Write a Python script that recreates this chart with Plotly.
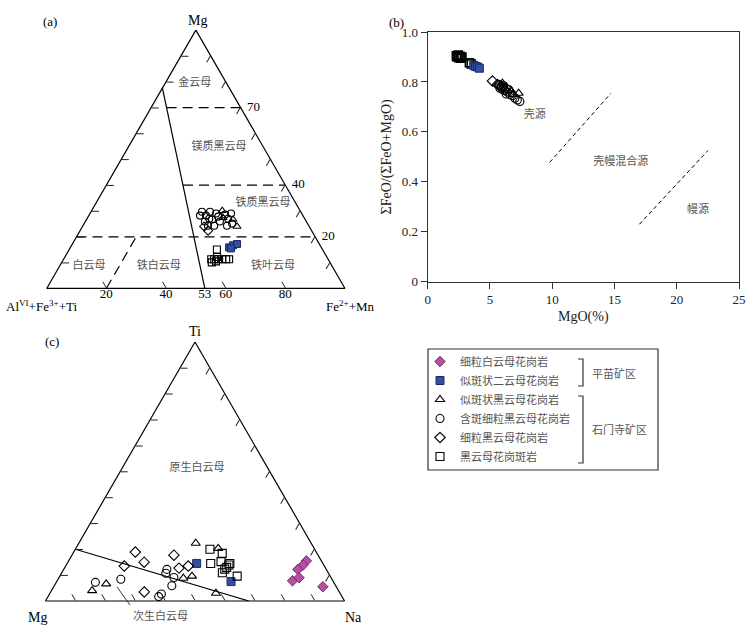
import plotly.graph_objects as go

W, H = 751, 634
SERIF = "Liberation Serif, Noto Sans CJK SC"
CJK = "Noto Sans CJK SC"
TXT = "#555555"

# ---------------- categories ----------------
cat_names = ["细粒白云母花岗岩", "似斑状二云母花岗岩", "似斑状黑云母花岗岩",
             "含斑细粒黑云母花岗岩", "细粒黑云母花岗岩", "黑云母花岗斑岩"]

# ---------------- panel (a): Mg / Al(VI)+Fe3++Ti / Fe2++Mn  (%) ----------------
a_tri_mg = [30.1, 27.4, 24.0, 26.7]
a_tri_fe = [43.8, 45.4, 51.8, 49.1]
a_cir_mg = [29.7, 28.2, 29.7, 25.9, 26.7, 29.0, 24.3, 24.3, 25.9, 28.6, 25.1, 24.3, 28.2, 27.0, 27.8, 27.0, 29.0]
a_cir_fe = [37.2, 39.3, 39.9, 40.1, 42.1, 42.3, 41.9, 44.0, 45.1, 45.5, 49.6, 48.3, 37.3, 41.0, 43.6, 47.3, 47.3]
a_dia_mg = [22.4, 24.0]
a_dia_fe = [42.9, 40.8]
a_blu_mg = [15.9, 16.7, 17.2, 15.5]
a_blu_fe = [53.2, 54.1, 55.2, 54.0]
a_sq_mg = [15.1, 11.3, 11.3, 11.3, 11.3, 11.3, 11.3, 10.1, 10.5, 12.2]
a_sq_fe = [49.5, 49.5, 50.5, 51.8, 53.2, 54.5, 55.5, 50.3, 51.5, 51.0]

# boundary lines (a)
a_solid_mg = [0, 77.6]
a_solid_fe = [53, 0]
a_d70_mg = [70, 70]
a_d70_fe = [5.2, 30]
a_d40_mg = [40, 40]
a_d40_fe = [25.7, 60]
a_d20_mg = [20, 20]
a_d20_fe = [0, 80]
a_dfe_mg = [0, 20]
a_dfe_fe = [20, 20]

a_bottom_ticks = [20, 40, 53, 60, 80]
a_right_ticks = [70, 40, 20]
a_regions = ["金云母", "镁质黑云母", "铁质黑云母", "白云母", "铁白云母", "铁叶云母"]
a_region_mg = [79.3, 54.7, 32.8, 8.6, 8.6, 8.6]
a_region_fe = [10.0, 30.4, 56.1, 9.9, 33.3, 71.6]

# ---------------- panel (b): MgO vs FeO/(FeO+MgO) ----------------
b_sq_x = [2.3, 2.45, 2.6, 2.75, 2.5, 2.35, 2.65, 3.35, 3.5]
b_sq_y = [0.905, 0.908, 0.903, 0.900, 0.897, 0.900, 0.895, 0.877, 0.872]
b_blu_x = [3.7, 3.85, 4.0, 4.15]
b_blu_y = [0.866, 0.862, 0.860, 0.855]
b_dia_x = [5.2, 5.6, 5.8, 6.0, 6.3]
b_dia_y = [0.804, 0.790, 0.785, 0.780, 0.775]
b_cir_x = [5.7, 5.9, 6.0, 6.2, 6.4, 6.6, 6.8, 7.0, 7.2, 7.4, 6.1, 6.5, 6.3, 5.8]
b_cir_y = [0.790, 0.780, 0.770, 0.765, 0.760, 0.750, 0.745, 0.735, 0.728, 0.722, 0.785, 0.770, 0.752, 0.775]
b_tri_x = [6.2, 6.7, 7.3, 6.9, 6.0]
b_tri_y = [0.775, 0.765, 0.755, 0.750, 0.795]
b_line1_x = [9.8, 14.7]
b_line1_y = [0.478, 0.754]
b_line2_x = [17.0, 22.5]
b_line2_y = [0.230, 0.525]
b_labels = ["壳源", "壳幔混合源", "幔源"]
b_label_x = [8.6, 15.5, 21.7]
b_label_y = [0.668, 0.477, 0.287]

# ---------------- panel (c): Ti / Mg / Na (%) ----------------
c_pur_ti = [15.5, 13.9, 12.2, 7.8, 9.0, 5.5]
c_pur_na = [79.5, 79.2, 78.3, 78.7, 80.3, 90.0]
c_blu_ti = [14.5, 7.5]
c_blu_na = [43.3, 58.3]
c_tri_ti = [4.0, 6.6, 8.8, 9.6, 22.3, 20.3, 3.0]
c_tri_na = [13.6, 17.0, 41.7, 44.2, 39.1, 47.6, 55.5]
c_cir_ti = [7.2, 8.4, 12.2, 10.7, 9.1, 5.9, 2.7, 1.7]
c_cir_na = [13.1, 21.0, 34.5, 34.9, 38.4, 39.3, 37.4, 37.0]
c_dia_ti = [18.9, 15.0, 13.5, 17.7, 12.7, 13.5, 3.5]
c_dia_na = [20.6, 25.5, 19.6, 34.1, 38.3, 41.0, 31.3]
c_sq_ti = [20.0, 18.4, 14.5, 15.2, 14.5, 13.0, 10.9, 9.6, 13.9, 12.3]
c_sq_na = [45.0, 49.9, 48.0, 51.1, 54.4, 54.1, 53.7, 59.3, 54.4, 53.8]
c_line_ti = [20, 0]
c_line_na = [0, 68]
c_region_text = ["原生白云母"]
c_region_ti = [51.3]
c_region_na = [25.0]

# ---------------- styles ----------------
styles = [
    dict(symbol="diamond", color="#b84fa6", line=dict(color="#6e2a63", width=1)),
    dict(symbol="square", color="#2f4f9f", line=dict(color="#1b2d66", width=1)),
    dict(symbol="triangle-up-open", color="black", line=dict(color="black", width=1.1)),
    dict(symbol="circle-open", color="black", line=dict(color="black", width=1.1)),
    dict(symbol="diamond-open", color="black", line=dict(color="black", width=1.1)),
    dict(symbol="square-open", color="black", line=dict(color="black", width=1.1)),
]


def tern_abc(top, right):
    """top component, left component (remainder), right component"""
    left = [100 - t - r for t, r in zip(top, right)]
    return top, left, right


fig = go.Figure()

# ---- panel (a) lines ----
for mg, fe, dash in [(a_solid_mg, a_solid_fe, "solid"), (a_d70_mg, a_d70_fe, "10px,6px"),
                     (a_d40_mg, a_d40_fe, "10px,6px"), (a_d20_mg, a_d20_fe, "10px,6px"),
                     (a_dfe_mg, a_dfe_fe, "10px,6px")]:
    t, l, r = tern_abc(mg, fe)
    fig.add_trace(go.Scatterternary(a=t, b=l, c=r, mode="lines", subplot="ternary",
                                    line=dict(color="black", width=1.2, dash=dash),
                                    showlegend=False, hoverinfo="skip", cliponaxis=False))

# ---- panel (a) points ----
a_sets = [None, (a_blu_mg, a_blu_fe), (a_tri_mg, a_tri_fe), (a_cir_mg, a_cir_fe),
          (a_dia_mg, a_dia_fe), (a_sq_mg, a_sq_fe)]
for i, s in enumerate(a_sets):
    if s is None:
        continue
    t, l, r = tern_abc(*s)
    st = styles[i]
    fig.add_trace(go.Scatterternary(a=t, b=l, c=r, mode="markers", subplot="ternary",
                                    marker=dict(symbol=st["symbol"], size=7, color=st["color"], line=st["line"]),
                                    legendgroup=cat_names[i], showlegend=False, name=cat_names[i],
                                    cliponaxis=False))

# ---- panel (a) labels ----
t, l, r = tern_abc(a_region_mg, a_region_fe)
fig.add_trace(go.Scatterternary(a=t, b=l, c=r, mode="text", text=a_regions, subplot="ternary",
                                textfont=dict(family=CJK, size=11, color=TXT),
                                showlegend=False, hoverinfo="skip", cliponaxis=False))
t, l, r = tern_abc([0] * len(a_bottom_ticks), a_bottom_ticks)
fig.add_trace(go.Scatterternary(a=t, b=l, c=r, mode="text", text=[str(v) for v in a_bottom_ticks],
                                textposition="bottom center", subplot="ternary",
                                textfont=dict(family=SERIF, size=13, color="black"),
                                showlegend=False, hoverinfo="skip", cliponaxis=False))
t, l, r = tern_abc(a_right_ticks, [100 - v for v in a_right_ticks])
fig.add_trace(go.Scatterternary(a=t, b=l, c=r, mode="text", text=["  " + str(v) for v in a_right_ticks],
                                textposition="middle right", subplot="ternary",
                                textfont=dict(family=SERIF, size=13, color="black"),
                                showlegend=False, hoverinfo="skip", cliponaxis=False))

# ---- panel (b) ----
for xs, ys in [(b_line1_x, b_line1_y), (b_line2_x, b_line2_y)]:
    fig.add_trace(go.Scatter(x=xs, y=ys, mode="lines", line=dict(color="black", width=1, dash="4px,3px"),
                             showlegend=False, hoverinfo="skip", xaxis="x", yaxis="y"))
b_sets = [None, (b_blu_x, b_blu_y), (b_tri_x, b_tri_y), (b_cir_x, b_cir_y), (b_dia_x, b_dia_y), (b_sq_x, b_sq_y)]
b_order = [5, 1, 4, 3, 2]
for i in b_order:
    xs, ys = b_sets[i]
    st = styles[i]
    lw = dict(st["line"])
    if i == 5:
        lw["width"] = 1.6
    fig.add_trace(go.Scatter(x=xs, y=ys, mode="markers",
                             marker=dict(symbol=st["symbol"], size=8, color=st["color"], line=lw),
                             legendgroup=cat_names[i], showlegend=False, name=cat_names[i]))
fig.add_trace(go.Scatter(x=b_label_x, y=b_label_y, mode="text", text=b_labels,
                         textfont=dict(family=CJK, size=11, color=TXT), showlegend=False, hoverinfo="skip"))

# ---- panel (c) ----
t, l, r = tern_abc(c_line_ti, c_line_na)
fig.add_trace(go.Scatterternary(a=t, b=l, c=r, mode="lines", subplot="ternary2",
                                line=dict(color="black", width=1.2), showlegend=False, hoverinfo="skip",
                                cliponaxis=False))
c_sets = [(c_pur_ti, c_pur_na), (c_blu_ti, c_blu_na), (c_tri_ti, c_tri_na), (c_cir_ti, c_cir_na),
          (c_dia_ti, c_dia_na), (c_sq_ti, c_sq_na)]
for i, s in enumerate(c_sets):
    t, l, r = tern_abc(*s)
    st = styles[i]
    fig.add_trace(go.Scatterternary(a=t, b=l, c=r, mode="markers", subplot="ternary2",
                                    marker=dict(symbol=st["symbol"], size=8, color=st["color"], line=st["line"]),
                                    legendgroup=cat_names[i], showlegend=True, name=cat_names[i],
                                    legendrank=i + 1, cliponaxis=False))
t, l, r = tern_abc(c_region_ti, c_region_na)
fig.add_trace(go.Scatterternary(a=t, b=l, c=r, mode="text", text=c_region_text, subplot="ternary2",
                                textfont=dict(family=CJK, size=11, color=TXT),
                                showlegend=False, hoverinfo="skip", cliponaxis=False))


def px(x):
    return x / W


def py(y):
    return 1 - y / H


def tern_axis(dtick):
    return dict(showgrid=False, showticklabels=False, ticks="inside", ticklen=7, tickwidth=1.2,
                tickcolor="#222", dtick=dtick, tick0=0, linecolor="black", linewidth=1.2,
                showline=True, title=dict(text=""), layer="above traces")


fig.update_layout(
    width=W, height=H, margin=dict(l=0, r=0, t=0, b=0, pad=0, autoexpand=False),
    paper_bgcolor="white", plot_bgcolor="white",
    ternary=dict(domain=dict(x=[px(46.7), px(345)], y=[py(289.3), py(29.3)]), sum=100, bgcolor="white",
                 aaxis=tern_axis(10), baxis=tern_axis(20), caxis=tern_axis(10)),
    ternary2=dict(domain=dict(x=[px(45), px(345)], y=[py(601), py(342)]), sum=100, bgcolor="white",
                  aaxis=tern_axis(10), baxis=tern_axis(10), caxis=tern_axis(10)),
    xaxis=dict(domain=[px(427.7), px(739)], range=[0, 25], tickvals=[0, 5, 10, 15, 20, 25],
               ticks="outside", ticklen=6, tickcolor="#333", showline=True, linecolor="#333", linewidth=1.2,
               mirror=True, showgrid=False, zeroline=False, tickfont=dict(family=SERIF, size=13, color="#222"),
               title=dict(text="MgO(%)", font=dict(family=SERIF, size=14, color="#222"), standoff=4),
               anchor="y", automargin=False),
    yaxis=dict(domain=[py(281.7), py(32)], range=[0, 1.0], tickvals=[0, 0.2, 0.4, 0.6, 0.8, 1.0],
               ticktext=["0", "0.2", "0.4", "0.6", "0.8", "1.0"],
               ticks="outside", ticklen=6, tickcolor="#333", showline=True, linecolor="#333", linewidth=1.2,
               mirror=True, showgrid=False, zeroline=False, tickfont=dict(family=SERIF, size=13, color="#222"),
               title=dict(text="ΣFeO/(ΣFeO+MgO)", font=dict(family=SERIF, size=14, color="#222"), standoff=6),
               anchor="x", automargin=False),
    legend=dict(x=px(420), y=py(347), xanchor="left", yanchor="top", bgcolor="rgba(0,0,0,0)",
                borderwidth=0, font=dict(family=CJK, size=11, color=TXT), tracegroupgap=0),
    showlegend=True,
)

ann = [
    ("(a)", 50, 21, 13, SERIF, "black"),
    ("Mg", 197, 20, 14, SERIF, "black"),
    ("Al<sup>VI</sup>+Fe<sup>3+</sup>+Ti", 41, 306, 13, SERIF, "black"),
    ("Fe<sup>2+</sup>+Mn", 350, 306, 13, SERIF, "black"),
    ("(b)", 396, 22, 13, SERIF, "black"),
    ("(c)", 52, 341, 13, SERIF, "black"),
    ("Ti", 195, 331, 14, SERIF, "black"),
    ("Mg", 37, 617, 14, SERIF, "black"),
    ("Na", 353, 617, 14, SERIF, "black"),
    ("次生白云母", 160, 615, 11, CJK, TXT),
    ("平苗矿区", 614, 373, 11, CJK, TXT),
    ("石门寺矿区", 619, 429, 11, CJK, TXT),
]
annotations = []
for text, x, y, size, fam, col in ann:
    annotations.append(dict(text=text, x=px(x), y=py(y), xref="paper", yref="paper", showarrow=False,
                            xanchor="center", yanchor="middle", font=dict(family=fam, size=size, color=col)))
fig.update_layout(annotations=annotations)

shapes = [
    dict(type="rect", x0=px(428), x1=px(658), y0=py(470), y1=py(349), xref="paper", yref="paper",
         line=dict(color="#333", width=1.2)),
    # bracket 1
    dict(type="path", path=f"M {px(578)},{py(359)} L {px(583)},{py(359)} L {px(583)},{py(386)} L {px(578)},{py(386)}",
         xref="paper", yref="paper", line=dict(color="#333", width=1.2)),
    # bracket 2
    dict(type="path", path=f"M {px(578)},{py(396)} L {px(583)},{py(396)} L {px(583)},{py(463)} L {px(578)},{py(463)}",
         xref="paper", yref="paper", line=dict(color="#333", width=1.2)),
    # leader line for 次生白云母
    dict(type="line", x0=px(117), y0=py(587), x1=px(130), y1=py(605), xref="paper", yref="paper",
         line=dict(color="#333", width=1)),
]
fig.update_layout(shapes=shapes)

fig.write_html("out.html", config={"displayModeBar": False},
               post_script="document.body.style.margin='0';document.body.style.overflow='hidden';")
